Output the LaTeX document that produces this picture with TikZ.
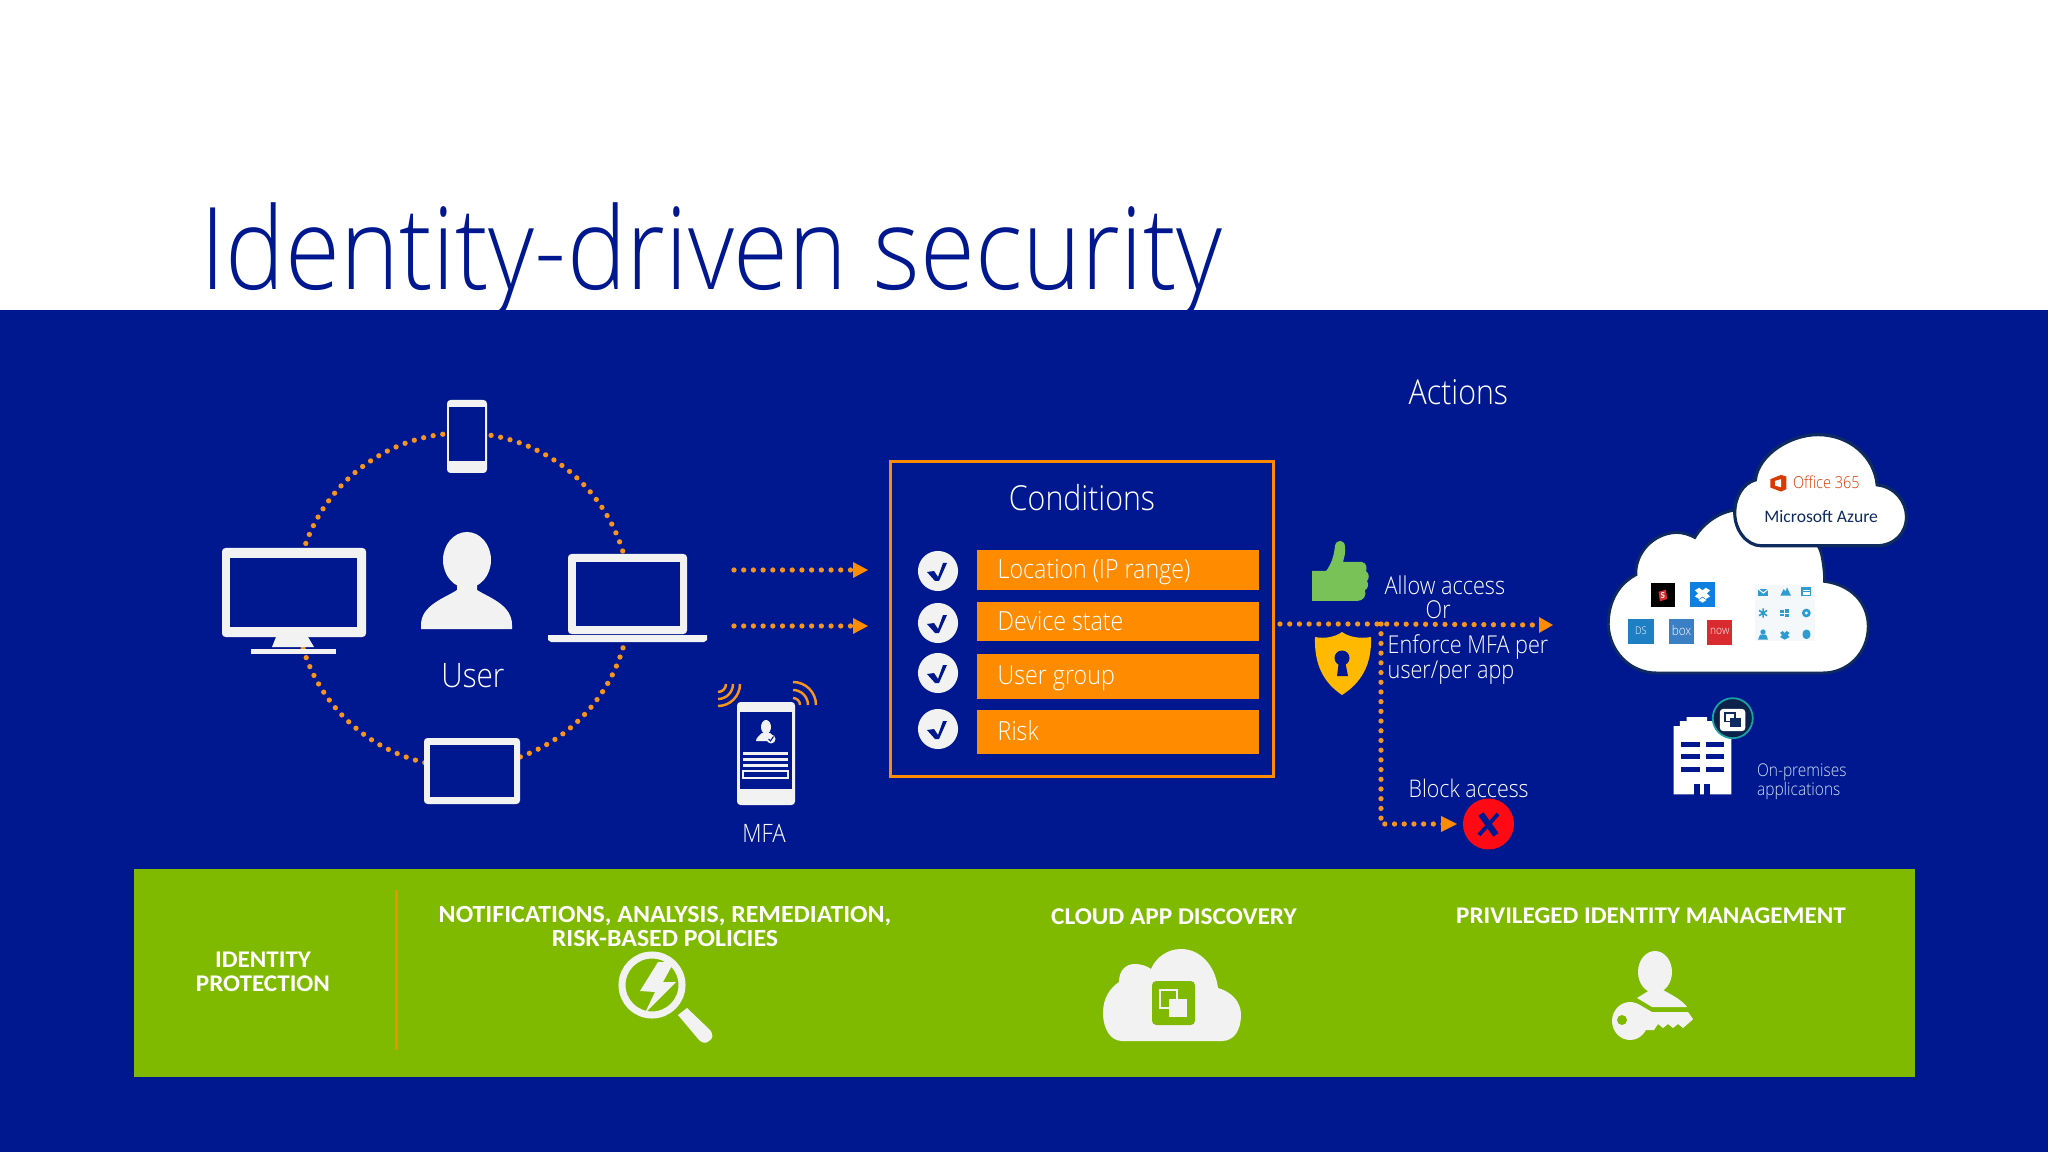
\documentclass[tikz,border=0pt]{standalone}
\usepackage{fontspec}
\setmainfont{Carlito}
\newfontfamily\lightf[UprightFont=* Light,FakeStretch=0.88]{Open Sans}
\newfontfamily\titlef[UprightFont=* Light,FakeStretch=0.875]{Open Sans}
\newfontfamily\boldf[UprightFont=* Bold,FakeStretch=1.05]{Carlito}
\newcommand{\pxfont}[1]{\fontsize{#1}{#1}\selectfont}
\definecolor{bgblue}{HTML}{00188F}
\definecolor{titleblue}{HTML}{00188F}
\definecolor{band}{HTML}{7FBA00}
\definecolor{orangeb}{HTML}{FF8C00}
\definecolor{dotc}{HTML}{F7941D}
\definecolor{icon}{HTML}{F2F2F2}
\definecolor{navy}{HTML}{0F2A5E}
\definecolor{skyi}{HTML}{2E9BD1}
\definecolor{thumbc}{HTML}{78C258}
\definecolor{shieldc}{HTML}{FFB900}
\definecolor{redx}{HTML}{FF0A14}
\definecolor{office}{HTML}{D83B01}
\definecolor{dstile}{HTML}{1E7FC4}
\definecolor{boxtile}{HTML}{3B7FC4}
\definecolor{nowtile}{HTML}{D92B2F}
\definecolor{droptile}{HTML}{0F7FE0}
\definecolor{tealb}{HTML}{1AA3A3}
\definecolor{onp}{HTML}{CFE0F5}
\definecolor{faint}{HTML}{F5F8FB}
\tikzset{
  dots/.style={draw=dotc,line width=1.5pt,line cap=round,dash pattern=on 0pt off 2.76pt},
  tip/.style={fill=orangeb},
  whitefill/.style={fill=icon,draw=none},
  blk/.style={fill=bgblue,draw=none},
  lbl/.style={text=white,inner sep=0pt,anchor=base west,font=\lightf\pxfont{7}},
  bartext/.style={text=white,inner sep=0pt,anchor=base west,font=\lightf\pxfont{7.5}},
  chk/.style={circle,fill=icon,draw=none,minimum size=11.4pt,inner sep=0pt},
  head/.style={text=white,inner sep=0pt,anchor=base,align=center,font=\boldf\pxfont{7}},
  mini/.style={fill=skyi,draw=none},
  wifi/.style={draw=dotc,line width=0.7pt},
}
\begin{document}
\begin{tikzpicture}[x=0.01cm,y=-0.01cm]
\useasboundingbox (0,0) rectangle (2048,1152);
\fill[white] (0,0) rectangle (2048,310);
\fill[bgblue] (0,310) rectangle (2048,1152);
\node[inner sep=0pt,anchor=base west,text=titleblue,font=\titlef\pxfont{32.5}] (title) at (200,290) {Identity-driven security};

% ---- ring and devices
\coordinate (ringc) at (463,600);
\draw[dots] (ringc) circle [radius=167];
% phone
\fill[whitefill,rounded corners=1pt] (447,400) rectangle (487,473);
\fill[blk] (449,407) rectangle (485,461);
% monitor
\fill[whitefill] (276,637) -- (308,637) -- (314,647) -- (272,647) -- cycle;
\fill[whitefill] (251,649) rectangle (336,654);
\fill[whitefill,rounded corners=1pt] (222,548) rectangle (366,637);
\fill[blk] (230,558) rectangle (357,627);
% laptop
\fill[whitefill,rounded corners=1pt] (568,554) rectangle (687,634);
\fill[blk] (576,562) rectangle (680,626);
\fill[whitefill] (548,635) -- (707,635) -- (707,640) -- (704,642) -- (551,642) -- (548,640) -- cycle;
% tablet
\fill[whitefill,rounded corners=1pt] (424,738) rectangle (520,804);
\fill[blk] (430,745) rectangle (514,797);
% person
\fill[whitefill] (467,560) ellipse [x radius=24,y radius=28];
\fill[whitefill] (457,583) -- (477,583) -- (477,590) .. controls (490,598) and (512,605) .. (512,625) -- (512,629) -- (421,629) -- (421,625) .. controls (421,605) and (445,598) .. (457,590) -- cycle;
\node[inner sep=0pt,anchor=base,text=white,font=\lightf\pxfont{9.6}] (user) at (473,687) {User};

% ---- conditions
\node[draw=orangeb,line width=0.9pt,inner sep=0pt,minimum width=3.83cm,minimum height=3.15cm,anchor=north west] (cond) at (889,460) {};
\node[inner sep=0pt,anchor=base,text=white,font=\lightf\pxfont{9.8}] (condt) at (1082,511) {Conditions};
\foreach \n/\yt/\yb/\ybase/\yc/\t in {1/550/590/579/571/Location (IP range),2/602/641/630/623/Device state,3/654/699/685/673/User group,4/710/754/740/729/Risk}{
  \fill[orangeb] (977,\yt) rectangle (1259,\yb);
  \node[bartext] (bar\n) at (997,\ybase) {\t};
  \node[chk] (chk\n) at (938,\yc) {};
  \begin{scope}[shift={(937,\yc)}]
    \fill[bgblue] (-10,1) -- (-3,0) -- (1,6) -- (6,-8) -- (10,-8) -- (2,10) -- (-2,10) -- cycle;
  \end{scope}
}

% ---- input arrows
\coordinate (a1s) at (734,570); \coordinate (a1e) at (855,570);
\coordinate (a2s) at (734,626); \coordinate (a2e) at (855,626);
\draw[dots] (a1s) -- (a1e);
\draw[dots] (a2s) -- (a2e);
\fill[tip] (853,562) -- (868,570) -- (853,578) -- cycle;
\fill[tip] (853,618) -- (868,626) -- (853,634) -- cycle;

% ---- MFA phone
\fill[whitefill,rounded corners=1pt] (737,702) rectangle (795,805);
\fill[blk] (740,712) rectangle (792,789);
\fill[whitefill] (766,727) ellipse [x radius=5,y radius=7];
\fill[whitefill] (762,733) -- (770,733) .. controls (773,736) and (775,737) .. (775,741) -- (756,741) .. controls (756,737) and (760,736) .. (762,733) -- cycle;
\fill[whitefill] (771,739) circle [radius=4.5];
\draw[bgblue,line width=0.3pt] (768.5,739) -- (770.5,741) -- (773.5,736.5);
\fill[whitefill] (743,752) rectangle (788,755);
\fill[whitefill] (743,758) rectangle (788,761);
\fill[whitefill] (743,764) rectangle (788,767);
\draw[icon,line width=0.45pt] (743,771) rectangle (788,778);
\draw[wifi] (718,692) arc [start angle=90,end angle=0,radius=8];
\draw[wifi] (718,699) arc [start angle=90,end angle=0,radius=15];
\draw[wifi] (718,706) arc [start angle=90,end angle=0,radius=22];
\draw[wifi] (793,698) arc [start angle=-90,end angle=0,radius=7];
\draw[wifi] (793,690) arc [start angle=-90,end angle=0,radius=15];
\draw[wifi] (793,682) arc [start angle=-90,end angle=0,radius=23];
\node[inner sep=0pt,anchor=base,text=white,font=\lightf\pxfont{7.2}] (mfa) at (764,842) {MFA};

% ---- actions
\node[inner sep=0pt,anchor=base west,text=white,font=\lightf\pxfont{9.8}] (actions) at (1408,405) {Actions};
\coordinate (o1) at (1280,624); \coordinate (oj) at (1381,624); \coordinate (o2) at (1541,625);
\coordinate (ob) at (1381,824); \coordinate (o3) at (1445,824);
\draw[dots] (o1) -- (oj) -- (o2);
\draw[dots] (oj) -- (ob) -- (o3);
\fill[tip] (1539,617) -- (1553,625) -- (1539,633) -- cycle;
\fill[tip] (1441,816) -- (1457,824) -- (1441,832) -- cycle;
% thumb
\fill[thumbc] (1312,601) -- (1312,571) -- (1326,571) .. controls (1331,565) and (1334,556) .. (1335,546) .. controls (1336,539) and (1345,539) .. (1345,547) .. controls (1346,552) and (1344,558) .. (1343,562) -- (1362,562) .. controls (1367,563) and (1367,569) .. (1366,571) .. controls (1370,574) and (1369,579) .. (1367,581) .. controls (1369,584) and (1368,589) .. (1365,590) .. controls (1367,596) and (1363,601) .. (1357,601) -- cycle;
% shield
\fill[shieldc] (1342,632) .. controls (1349,637) and (1360,639) .. (1371,637) .. controls (1372,665) and (1361,683) .. (1342,695) .. controls (1324,683) and (1314,665) .. (1315,637) .. controls (1325,639) and (1335,637) .. (1342,632) -- cycle;
\fill[bgblue] (1342,658) circle [radius=7.5];
\fill[bgblue] (1339,661) -- (1345,661) -- (1348,676) -- (1337,676) -- cycle;
\node[lbl] (allow) at (1384,594) {Allow access};
\node[lbl] (or) at (1425,619) {Or};
\node[lbl] (enf) at (1387,653) {Enforce MFA per};
\node[lbl] (peru) at (1387,678) {user/per app};
\node[lbl,font=\lightf\pxfont{6.9}] (block) at (1408,797) {Block access};
\node[circle,fill=redx,minimum size=14.5pt,inner sep=0pt] (xmark) at (1488.5,824) {};
\draw[bgblue,line width=1.8pt] (1481,814) -- (1496,835);
\draw[bgblue,line width=1.1pt] (1498,814) -- (1479,835);

% ---- clouds in 3x crop coordinates
\begin{scope}[shift={(1580,420)},x=0.003333cm,y=-0.003333cm]
  \draw[fill=white,draw=navy,line width=0.8pt] (230,760) .. controls (150,760) and (88,695) .. (85,615)
   .. controls (85,540) and (120,490) .. (168,465)
   .. controls (165,400) and (220,340) .. (290,338)
   .. controls (310,338) and (330,345) .. (345,353)
   .. controls (370,310) and (420,275) .. (470,270)
   .. controls (600,280) and (700,320) .. (725,400)
   .. controls (732,430) and (735,460) .. (735,485)
   .. controls (815,495) and (866,550) .. (866,620)
   .. controls (866,700) and (805,760) .. (730,760) -- cycle;
  \draw[fill=white,draw=navy,line width=0.9pt] (545,378) .. controls (500,378) and (465,330) .. (465,280)
   .. controls (465,230) and (490,190) .. (527,180)
   .. controls (535,105) and (630,44) .. (715,44)
   .. controls (810,44) and (885,110) .. (893,195)
   .. controls (945,200) and (981,245) .. (981,290)
   .. controls (981,340) and (945,378) .. (890,378) -- cycle;
  % office
  \fill[office] (572,178) -- (604,165) -- (620,170) -- (620,208) -- (604,215) -- (572,203) -- cycle;
  \fill[white] (586,183) -- (604,178) -- (604,202) -- (586,197) -- cycle;
  \node[inner sep=0pt,anchor=base west,text=office,font=\lightf\pxfont{4.7}] (o365) at (638,207) {Office 365};
  \node[inner sep=0pt,anchor=base west,text=navy,font=\pxfont{5}] (azure) at (552,308) {Microsoft Azure};
  % app tiles
  \fill[black] (212,490) rectangle (284,563);
  \fill[nowtile] (236,516) -- (258,510) -- (262,538) -- (240,545) -- cycle;
  \node[inner sep=0pt,text=white,font=\bfseries\pxfont{2.6}] (t1) at (249,527) {S};
  \fill[droptile] (331,488) rectangle (405,563);
  \fill[white] (345,512) -- (358,504) -- (368,512) -- (378,504) -- (391,512) -- (381,521) -- (391,530) -- (378,538) -- (368,530) -- (358,538) -- (345,530) -- (355,521) -- cycle;
  \fill[white] (356,541) -- (368,534) -- (380,541) -- (368,549) -- cycle;
  \fill[dstile] (145,598) rectangle (221,674);
  \node[inner sep=0pt,text=white,font=\lightf\pxfont{3}] (t3) at (183,634) {DS};
  \fill[boxtile] (267,598) rectangle (343,672);
  \node[inner sep=0pt,text=white,font=\lightf\pxfont{3.8}] (t4) at (305,632) {box};
  \fill[nowtile] (383,600) rectangle (458,675);
  \node[inner sep=0pt,text=white,font=\lightf\pxfont{3.3}] (t5) at (420,635) {now};
  % small service icons
  \fill[faint] (525,495) rectangle (705,665);
  \fill[mini] (536,507) rectangle (566,528);
  \draw[white,line width=0.3pt] (536,508) -- (551,520) -- (566,508);
  \fill[mini] (602,528) -- (612,508) -- (618,515) -- (622,503) -- (634,528) -- cycle;
  \fill[mini] (665,503) rectangle (695,530);
  \fill[white] (669,511) rectangle (691,514);
  \fill[white] (669,518) rectangle (691,526);
  \draw[mini,draw=skyi,line width=0.45pt] (550,566) -- (550,594) (538,572) -- (562,588) (538,588) -- (562,572);
  \fill[mini] (602,571) rectangle (613,579);
  \fill[mini] (616,568) rectangle (628,579);
  \fill[mini] (602,582) rectangle (613,590);
  \fill[mini] (616,582) rectangle (628,593);
  \draw[draw=skyi,line width=0.75pt] (680,580) circle [radius=9];
  \fill[mini] (550,637) circle [radius=8];
  \fill[mini] (535,660) -- (541,645) -- (559,645) -- (565,660) -- cycle;
  \fill[mini] (601,640) -- (609,634) -- (615,640) -- (621,634) -- (630,640) -- (624,646) -- (630,652) -- (615,660) -- (601,652) -- (607,646) -- cycle;
  \fill[mini,rounded corners=1pt] (669,630) -- (692,630) -- (692,658) -- (669,658) -- cycle;
  % building
  \fill[white] (281,1125) -- (281,920) -- (300,920) -- (300,905) -- (320,905) -- (320,893) -- (382,893) -- (382,905) -- (440,905) -- (455,920) -- (455,1125) -- cycle;
  \foreach \y in {968,1005,1042}{
    \fill[bgblue] (304,\y) rectangle (360,\y+15);
    \fill[bgblue] (378,\y) rectangle (434,\y+15);
  }
  \fill[bgblue] (343,1095) rectangle (360,1130);
  \fill[bgblue] (374,1095) rectangle (391,1130);
  \node[circle,fill=navy!80!black,draw=tealb,line width=0.5pt,minimum size=0.4cm,inner sep=0pt] (badge) at (459,896) {};
  \fill[white,rounded corners=1pt] (420,868) rectangle (497,935);
  \fill[navy] (432,878) rectangle (468,908);
  \fill[white] (438,883) rectangle (462,903);
  \fill[navy] (450,895) rectangle (484,922);
  \node[inner sep=0pt,anchor=base west,text=onp,font=\lightf\pxfont{5}] (onprem) at (530,1072) {On-premises};
  \node[inner sep=0pt,anchor=base west,text=onp,font=\lightf\pxfont{5}] (onapp) at (530,1127) {applications};
\end{scope}

% ---- band
\fill[band] (134,869) rectangle (1915,1077);
\fill[orangeb!80!band] (395,890) rectangle (398,1050);
\node[head,font=\boldf\pxfont{6.8}] (ip) at (263,991) {IDENTITY\\PROTECTION};
\node[head] (notif) at (665,946) {NOTIFICATIONS, ANALYSIS, REMEDIATION,\\[-0.4pt]RISK-BASED POLICIES};
\node[head,font=\boldf\pxfont{6.85}] (cloudd) at (1174,924) {CLOUD APP DISCOVERY};
\node[head,font=\boldf\pxfont{6.8}] (priv) at (1651,923) {PRIVILEGED IDENTITY MANAGEMENT};
% magnifier
\draw[icon,line width=2pt] (652,985) circle [radius=30];
\fill[icon] (678,1015) -- (687,1008) -- (709,1029) .. controls (714,1034) and (713,1039) .. (709,1041) .. controls (706,1044) and (702,1043) .. (699,1040) -- cycle;
\fill[icon] (658,962) -- (674,962) -- (663,982) -- (676,982) -- (645,1013) -- (655,992) -- (640,991) -- cycle;
% cloud icon
\fill[icon] (1122,1041) .. controls (1110,1041) and (1103,1028) .. (1103,1013) .. controls (1103,998) and (1110,988) .. (1119,982) .. controls (1119,970) and (1126,964) .. (1135,964) .. controls (1141,964) and (1147,966) .. (1151,969) .. controls (1156,957) and (1168,949) .. (1181,949) .. controls (1200,949) and (1215,965) .. (1218,988) .. controls (1232,992) and (1241,1002) .. (1241,1015) .. controls (1241,1030) and (1234,1041) .. (1222,1041) -- cycle;
\fill[band,rounded corners=1.2pt] (1152,981) rectangle (1195,1025);
\draw[icon,line width=0.6pt] (1160,990) rectangle (1177,1008);
\fill[icon] (1169,999) rectangle (1187,1017);
% person with key
\fill[icon] (1655,972) ellipse [x radius=17,y radius=21];
\fill[icon] (1649,986) -- (1662,986) -- (1663,990) .. controls (1672,995) and (1682,1000) .. (1687,1007) -- (1652,1007) -- (1637,998) -- (1650,990) -- cycle;
\fill[icon] (1630,1021) ellipse [x radius=18,y radius=19];
\fill[icon] (1638,1004) -- (1652,1012) -- (1688,1012) -- (1693,1019) -- (1690,1022) -- (1683,1028) -- (1678,1024) -- (1673,1028) -- (1668,1024) -- (1663,1028) -- (1658,1024) -- (1654,1030) -- (1640,1030) -- cycle;
\fill[band] (1622,1020) circle [radius=5];
\end{tikzpicture}
\end{document}
